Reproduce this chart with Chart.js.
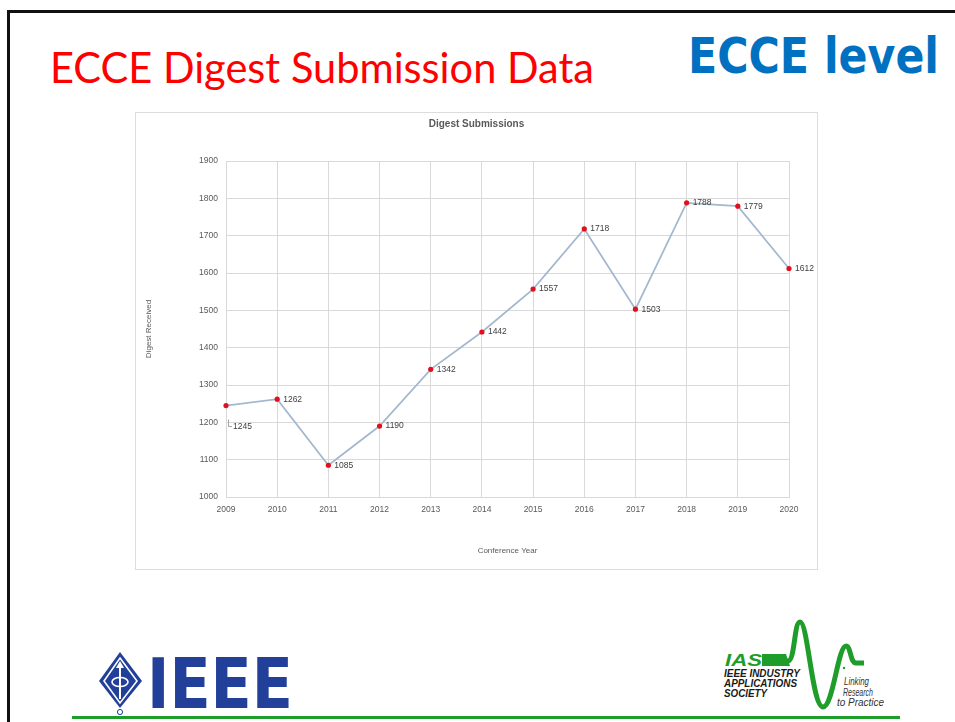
<!DOCTYPE html>
<html>
<head>
<meta charset="utf-8">
<script src="https://cdn.jsdelivr.net/npm/chart.js@4/dist/chart.umd.min.js"></script>
<style>
  html, body { margin: 0; padding: 0; background: #ffffff; }
  body { width: 955px; height: 722px; position: relative; overflow: hidden; }
  #slide { position: absolute; left: 0; top: 0; }
  #c { position: absolute; left: 135px; top: 112px; }
</style>
</head>
<body>
<svg id="slide" width="955" height="722" viewBox="0 0 955 722" xmlns="http://www.w3.org/2000/svg">
  <!-- slide frame -->
  <path d="M8.5,722 L8.5,11.5 L955,11.5" fill="none" stroke="#111" stroke-width="3"/>
  <!-- titles -->
  <text x="50" y="83" font-family="Lato, 'Open Sans', sans-serif" font-size="42" fill="#FF0000"
        textLength="544" lengthAdjust="spacingAndGlyphs">ECCE Digest Submission Data</text>
  <text x="688" y="73" font-family="'DejaVu Sans', sans-serif" font-weight="bold" font-size="49" fill="#0070C0"
        textLength="251" lengthAdjust="spacingAndGlyphs">ECCE level</text>
  <!-- chart box -->
  <rect x="135.5" y="112.5" width="682" height="457" fill="#ffffff" stroke="#DCDCDC" stroke-width="1"/>
  <!-- IEEE logo -->
  <polygon points="120,652 142,681 120,708 99,681" fill="#22409A"/>
  <polygon points="120,658 137,681 120,703 104,681" fill="none" stroke="#ffffff" stroke-width="1.6"/>
  <line x1="120" y1="664" x2="120" y2="699" stroke="#ffffff" stroke-width="2"/>
  <polygon points="120,661 116,668 124,668" fill="#ffffff"/>
  <ellipse cx="120" cy="682" rx="8" ry="4.5" fill="none" stroke="#ffffff" stroke-width="1.6"/>
  <circle cx="120" cy="712" r="2.6" fill="none" stroke="#22409A" stroke-width="1"/>
  <text x="147" y="708" font-family="'Liberation Sans Narrow', 'DejaVu Sans Condensed', sans-serif" font-weight="bold"
        font-size="70" fill="#22409A" textLength="146" lengthAdjust="spacingAndGlyphs">IEEE</text>
  <!-- IAS logo -->
  <text x="725" y="666" font-family="'Liberation Sans Narrow', 'Liberation Sans', sans-serif" font-weight="bold" font-style="italic"
        font-size="17" fill="#1F9D2B" textLength="37" lengthAdjust="spacingAndGlyphs">IAS</text>
  <path d="M762,661 L788,661 C795,661 794,622 800,622 C808,622 812,707 823,707 C833,707 838,646 846,646 C851,646 850,663 856,663 L864,663"
        fill="none" stroke="#1F9D2B" stroke-width="5" stroke-linejoin="round"/>
  <polygon points="762,654 786,654 790,666 762,666" fill="#1F9D2B"/>
  <circle cx="844" cy="668" r="1.2" fill="#1F9D2B"/>
  <text x="724" y="677" font-family="'Liberation Sans Narrow', 'Liberation Sans', sans-serif" font-weight="bold" font-style="italic"
        font-size="11.5" fill="#1a1a1a" textLength="76" lengthAdjust="spacingAndGlyphs">IEEE INDUSTRY</text>
  <text x="724" y="687" font-family="'Liberation Sans Narrow', 'Liberation Sans', sans-serif" font-weight="bold" font-style="italic"
        font-size="11.5" fill="#1a1a1a" textLength="73" lengthAdjust="spacingAndGlyphs">APPLICATIONS</text>
  <text x="724" y="697" font-family="'Liberation Sans Narrow', 'Liberation Sans', sans-serif" font-weight="bold" font-style="italic"
        font-size="11.5" fill="#1a1a1a" textLength="43" lengthAdjust="spacingAndGlyphs">SOCIETY</text>
  <text x="844" y="685" font-family="'Liberation Sans Narrow', 'Liberation Sans', sans-serif" font-style="italic"
        font-size="11.5" fill="#333333" textLength="25" lengthAdjust="spacingAndGlyphs">Linking</text>
  <text x="843" y="695.5" font-family="'Liberation Sans Narrow', 'Liberation Sans', sans-serif" font-style="italic"
        font-size="11.5" fill="#333333" textLength="30" lengthAdjust="spacingAndGlyphs">Research</text>
  <text x="837" y="706" font-family="'Liberation Sans Narrow', 'Liberation Sans', sans-serif" font-style="italic"
        font-size="11.5" fill="#333333" textLength="47" lengthAdjust="spacingAndGlyphs">to Practice</text>
  <!-- green rule -->
  <rect x="72" y="716" width="828" height="3" fill="#1F9D2B"/>
</svg>
<canvas id="c" width="683" height="458"></canvas>
<script>
// ---- data ----
const years = ['2009','2010','2011','2012','2013','2014','2015','2016','2017','2018','2019','2020'];
const submissions = [1245, 1262, 1085, 1190, 1342, 1442, 1557, 1718, 1503, 1788, 1779, 1612];
const yMin = 1000;
const yMax = 1900;
const yStep = 100;
const chartTitle = 'Digest Submissions';
const yTitle = 'Digest Received';
const xTitle = 'Conference Year';

const FONT = "'Liberation Sans', Arial, sans-serif";

const valueLabels = {
  id: 'valueLabels',
  afterDatasetsDraw(chart, args, opts) {
    const meta = chart.getDatasetMeta(0);
    const data = chart.data.datasets[0].data;
    const ctx = chart.ctx;
    ctx.save();
    ctx.font = opts.font;
    ctx.fillStyle = opts.color;
    ctx.textAlign = 'left';
    ctx.textBaseline = 'middle';
    meta.data.forEach((pt, i) => {
      const sp = opts.special[i];
      const dx = sp ? sp.dx : opts.dx;
      const dy = sp ? sp.dy : 0;
      if (sp && sp.leader) {
        ctx.strokeStyle = opts.leaderColor;
        ctx.lineWidth = 1;
        ctx.beginPath();
        ctx.moveTo(pt.x + 2.5, pt.y + 14);
        ctx.lineTo(pt.x + 2.5, pt.y + dy);
        ctx.lineTo(pt.x + dx - 1, pt.y + dy);
        ctx.stroke();
      }
      ctx.fillText(String(data[i]), pt.x + dx, pt.y + dy);
    });
    ctx.restore();
  }
};

new Chart(document.getElementById('c'), {
  type: 'line',
  data: {
    labels: years,
    datasets: [{
      data: submissions,
      borderColor: '#A3B8CF',
      borderWidth: 1.75,
      pointRadius: 2.6,
      pointBackgroundColor: '#E0101E',
      pointBorderColor: '#E0101E',
      pointBorderWidth: 0,
      tension: 0,
      fill: false
    }]
  },
  options: {
    responsive: false,
    animation: false,
    devicePixelRatio: 1,
    layout: { padding: { left: 8, right: 8, top: 0, bottom: 10 } },
    plugins: {
      legend: { display: false },
      tooltip: { enabled: false },
      title: {
        display: true,
        text: chartTitle,
        color: '#595959',
        font: { family: FONT, size: 10, weight: 'bold' },
        padding: { top: 6, bottom: 31 }
      },
      valueLabels: {
        font: "8.5px " + FONT,
        color: '#404040',
        dx: 6,
        leaderColor: '#A6A6A6',
        special: { 0: { dx: 7, dy: 21, leader: true } }
      }
    },
    scales: {
      x: {
        type: 'category',
        offset: false,
        grid: { color: '#D9D9D9', lineWidth: 1, drawTicks: false },
        border: { color: '#D9D9D9' },
        ticks: { color: '#595959', font: { family: FONT, size: 8.5 }, padding: 8, maxRotation: 0, autoSkip: false },
        title: { display: true, text: xTitle, color: '#595959', font: { family: FONT, size: 8 }, padding: { top: 0, bottom: 4 } },
        afterFit(scale) { scale.height = 63; }
      },
      y: {
        min: yMin,
        max: yMax,
        grid: { color: '#D9D9D9', lineWidth: 1, drawTicks: false },
        border: { color: '#D9D9D9' },
        ticks: {
          stepSize: yStep, color: '#595959', font: { family: FONT, size: 8.5 }, padding: 8,
          callback: (v) => String(v)
        },
        title: { display: true, text: yTitle, color: '#595959', font: { family: FONT, size: 8 }, padding: { top: 1, bottom: 0 } },
        afterFit(scale) { scale.width = 83; }
      },
      spacer: {
        type: 'linear',
        position: 'right',
        display: true,
        grid: { display: false, drawTicks: false },
        border: { display: false },
        ticks: { display: false },
        afterFit(scale) { scale.width = 21; }
      }
    }
  },
  plugins: [valueLabels]
});
</script>
</body>
</html>
